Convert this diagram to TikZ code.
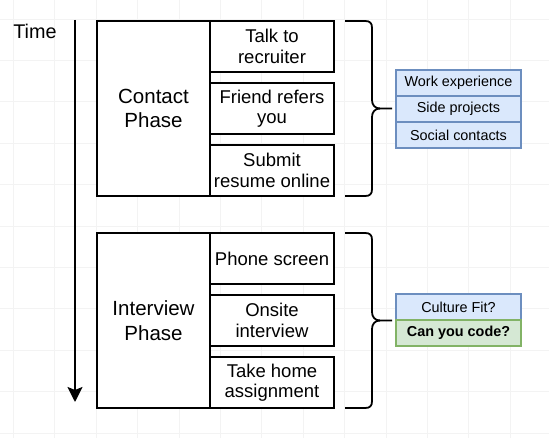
\documentclass[tikz,border=0pt]{standalone}
\usepackage{fontspec}
\setmainfont{Liberation Sans}
\usetikzlibrary{arrows.meta}
\definecolor{bluefill}{HTML}{DAE8FC}
\definecolor{bluedraw}{HTML}{6C8EBF}
\definecolor{greenfill}{HTML}{D5E8D4}
\definecolor{greendraw}{HTML}{82B366}
\definecolor{gridc}{HTML}{F3F3F3}
\tikzset{
  gridline/.style={draw=gridc, line width=0.8bp},
  phasebox/.style={draw=black, line width=1.6bp, fill=white, rectangle, inner sep=0pt,
    minimum width=113bp, minimum height=175bp, align=center,
    font=\fontsize{20.5bp}{24.5bp}\selectfont},
  stepbox/.style={draw=black, line width=1.6bp, fill=white, rectangle, inner sep=0pt,
    minimum width=124bp, minimum height=51bp, align=center,
    font=\fontsize{18.5bp}{20.5bp}\selectfont},
  tagbox/.style={line width=1.2bp, rectangle, inner sep=0pt,
    minimum width=125bp, minimum height=26bp, align=center,
    font=\fontsize{14.4bp}{17bp}\selectfont},
  bluetag/.style={tagbox, draw=bluedraw, fill=bluefill},
  greentag/.style={tagbox, draw=greendraw, fill=greenfill, font=\fontsize{14.4bp}{17bp}\selectfont\bfseries},
  bracel/.style={draw=black, line width=1.8bp, line join=round},
  timearrow/.style={draw=black, line width=2bp, -{Stealth[length=15bp, width=15bp, inset=3bp]}},
}
\begin{document}
\begin{tikzpicture}[x=1bp, y=-1bp]
\useasboundingbox (0,0) rectangle (549,438);
\fill[white] (0,0) rectangle (549,438);
% grid
\foreach \i in {0,...,13} \draw[gridline] ({13.3+41.4*\i},0) -- ({13.3+41.4*\i},438);
\foreach \j in {0,...,10} \draw[gridline] (0,{19+41.4*\j}) -- (549,{19+41.4*\j});

% time axis
\node[font=\fontsize{19.8bp}{22bp}\selectfont] (time) at (35,31.5) {Time};
\coordinate (t0) at (75,20);
\coordinate (t1) at (75,402);
\draw[timearrow] (t0) -- (t1);

% contact phase
\node[phasebox] (contact) at (153.5,108.5) {Contact\\Phase};
\node[stepbox] (talk) at (272,46.5) {Talk to\\recruiter};
\node[stepbox] (friend) at (272,108.5) {Friend refers\\you};
\node[stepbox] (submit) at (272,170.5) {Submit\\resume online};

% interview phase
\node[phasebox] (interview) at (153.5,320.5) {Interview\\Phase};
\node[stepbox] (phone) at (272,258.5) {Phone screen};
\node[stepbox] (onsite) at (272,320.5) {Onsite\\interview};
\node[stepbox] (takehome) at (272,382.5) {Take home\\assignment};

% braces
\draw[bracel] (345,21) -- (365,21) .. controls (370,21) and (372,23) .. (372,28) -- (372,100)
  .. controls (372,105) and (375,108.5) .. (380,108.5) -- (392,108.5);
\draw[bracel] (380,108.5) .. controls (375,108.5) and (372,112) .. (372,117) -- (372,189)
  .. controls (372,194) and (370,196) .. (365,196) -- (345,196);
\draw[bracel] (345,233) -- (365,233) .. controls (370,233) and (372,235) .. (372,240) -- (372,312)
  .. controls (372,317) and (375,320.5) .. (380,320.5) -- (392,320.5);
\draw[bracel] (380,320.5) .. controls (375,320.5) and (372,324) .. (372,329) -- (372,401)
  .. controls (372,406) and (370,408) .. (365,408) -- (345,408);

% tags
\node[bluetag] (work) at (458.5,83) {Work experience};
\node[bluetag] (side) at (458.5,109) {Side projects};
\node[bluetag] (social) at (458.5,135) {Social contacts};
\node[bluetag] (culture) at (458.5,307) {Culture Fit?};
\node[greentag] (code) at (458.5,333) {Can you code?};
\end{tikzpicture}
\end{document}
